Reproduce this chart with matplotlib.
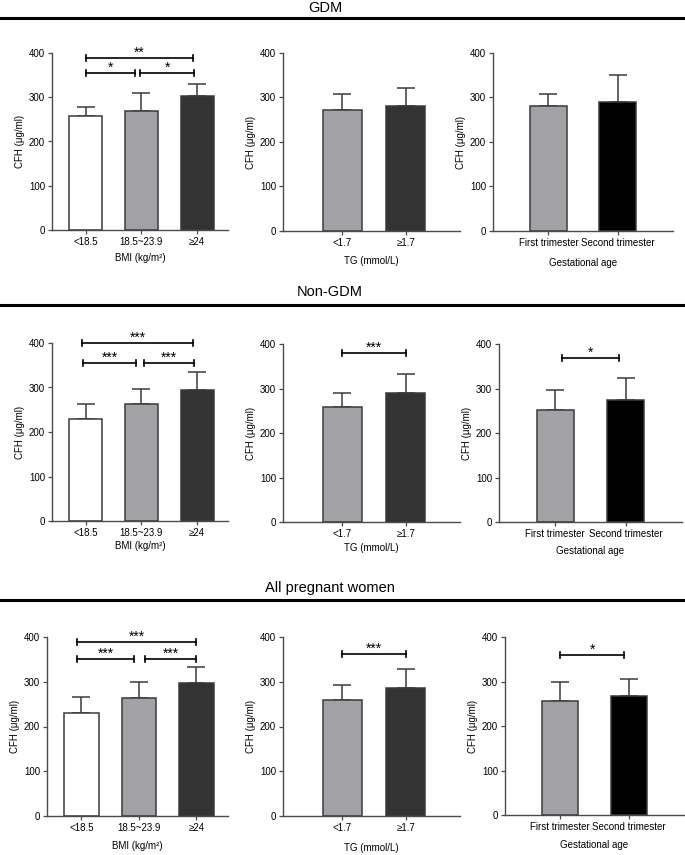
import matplotlib
matplotlib.use("Agg")
import matplotlib.pyplot as plt

plt.rcParams['font.family'] = ['Liberation Sans', 'DejaVu Sans']

# ---------------- data ----------------
row_titles = ["GDM", "Non-GDM", "All pregnant women"]

bmi_labels = ["<18.5", "18.5~23.9", "\u226524"]
tg_labels = ["<1.7", "\u22651.7"]
ga_labels = ["First trimester", "Second trimester"]

bmi_xlabel = "BMI (kg/m\u00b2)"
tg_xlabel = "TG (mmol/L)"
ga_xlabel = "Gestational age"
ylabel = "CFH (\u03bcg/ml)"

# means and SD (upper error) per row
gdm_bmi_mean = [258, 270, 303]
gdm_bmi_sd = [20, 40, 27]
gdm_tg_mean = [273, 282]
gdm_tg_sd = [35, 40]
gdm_ga_mean = [280, 291]
gdm_ga_sd = [28, 59]

non_bmi_mean = [229, 262, 294]
non_bmi_sd = [35, 35, 40]
non_tg_mean = [258, 291]
non_tg_sd = [31, 41]
non_ga_mean = [251, 274]
non_ga_sd = [46, 49]

all_bmi_mean = [231, 264, 297]
all_bmi_sd = [36, 36, 35]
all_tg_mean = [260, 286]
all_tg_sd = [32, 43]
all_ga_mean = [256, 267]
all_ga_sd = [43, 38]

# significance brackets: (x_start, x_end, y, label)
gdm_bmi_sig = [(0.0, 1.93, 389, "**"), (0.0, 0.88, 355, "*"), (0.98, 1.95, 355, "*")]
gdm_tg_sig = []
gdm_ga_sig = []
non_bmi_sig = [(-0.07, 1.93, 400, "***"), (-0.05, 0.91, 355, "***"), (1.04, 1.95, 355, "***")]
non_tg_sig = [(0.0, 1.0, 380, "***")]
non_ga_sig = [(0.1, 0.9, 368, "*")]
all_bmi_sig = [(-0.07, 2.0, 389, "***"), (-0.07, 0.92, 351, "***"), (1.1, 2.0, 351, "***")]
all_tg_sig = [(0.0, 1.0, 362, "***")]
all_ga_sig = [(0.0, 0.93, 360, "*")]

# ---------------- styles ----------------
C_WHITE = "#ffffff"
C_GRAY = "#a2a1a6"
C_DARK = "#333333"
C_BLACK = "#000000"
bmi_colors = [C_WHITE, C_GRAY, C_DARK]
tg_colors = [C_GRAY, C_DARK]
ga_colors = [C_GRAY, C_BLACK]

W, H = 685, 855
fig = plt.figure(figsize=(W / 100, H / 100), dpi=100)

# axes boxes in pixels: (left, right, top, bottom)
boxes = [
    [(52, 228, 53, 230), (283, 460, 53, 231), (493, 673, 53, 231)],
    [(52, 228, 343, 521), (283, 460, 344, 522), (499, 682, 344, 522)],
    [(47, 228, 637, 816), (283, 460, 637, 816), (505, 684, 637, 815)],
]
xlabel_offsets = [[23, 25, 27], [20, 21, 24], [25, 27, 25]]
title_y = [8, 292, 588]
title_x = [325, 330, 330]
line_y = [18, 305, 600]

panel_data = [
    [(gdm_bmi_mean, gdm_bmi_sd, gdm_bmi_sig), (gdm_tg_mean, gdm_tg_sd, gdm_tg_sig), (gdm_ga_mean, gdm_ga_sd, gdm_ga_sig)],
    [(non_bmi_mean, non_bmi_sd, non_bmi_sig), (non_tg_mean, non_tg_sd, non_tg_sig), (non_ga_mean, non_ga_sd, non_ga_sig)],
    [(all_bmi_mean, all_bmi_sd, all_bmi_sig), (all_tg_mean, all_tg_sd, all_tg_sig), (all_ga_mean, all_ga_sd, all_ga_sig)],
]
kinds = [
    (bmi_labels, bmi_colors, bmi_xlabel, (-0.6, 2.55), 0.6),
    (tg_labels, tg_colors, tg_xlabel, (-0.94, 1.86), 0.61),
    (ga_labels, ga_colors, ga_xlabel, (-0.8, 1.8), 0.53),
]

SPINE = "#4a4a4a"
EDGE = "#3a3a3a"
FS = 7

for r in range(3):
    fig.text(title_x[r] / W, 1 - title_y[r] / H, row_titles[r], ha="center", va="center", fontsize=10.5)
    fig.add_artist(plt.Line2D([0, 1], [1 - line_y[r] / H] * 2, color="black", lw=2.2, transform=fig.transFigure))
    for c in range(3):
        l, rr, t, b = boxes[r][c]
        ax = fig.add_axes([l / W, 1 - b / H, (rr - l) / W, (b - t) / H])
        labels, colors, xlabel, xlim, width = kinds[c]
        mean, sd, sig = panel_data[r][c]
        x = list(range(len(labels)))
        ax.bar(x, mean, width=width, color=colors, edgecolor=EDGE, linewidth=1.1, zorder=2)
        ax.errorbar(x, mean, yerr=[[0] * len(sd), sd], fmt="none", ecolor=EDGE,
                    elinewidth=1.1, capsize=6.5, capthick=1.1, zorder=1)
        ax.set_xlim(*xlim)
        ax.set_ylim(0, 400)
        ax.set_yticks([0, 100, 200, 300, 400])
        ax.set_xticks(x)
        ax.set_xticklabels(labels)
        ax.tick_params(axis="both", labelsize=FS, length=3, width=0.9, color=SPINE, pad=2)
        for s in ["top", "right"]:
            ax.spines[s].set_visible(False)
        for s in ["left", "bottom"]:
            ax.spines[s].set_color(SPINE)
            ax.spines[s].set_linewidth(1.0)
        ax.set_xlabel(xlabel, fontsize=FS)
        ax.xaxis.set_label_coords(0.5, -xlabel_offsets[r][c] / (b - t))
        ax.set_ylabel(ylabel, fontsize=FS)
        ax.yaxis.set_label_coords(-27 / (rr - l), 0.5)
        for (x1, x2, y, lab) in sig:
            ax.plot([x1, x2], [y, y], color="black", lw=1.2, clip_on=False, zorder=3)
            for xx in (x1, x2):
                ax.plot([xx, xx], [y - 7, y + 7], color="black", lw=1.2, clip_on=False, zorder=3)
            ax.text((x1 + x2) / 2, y - 4, lab, ha="center", va="bottom", fontsize=10, clip_on=False)

fig.savefig("out.png", dpi=100)
